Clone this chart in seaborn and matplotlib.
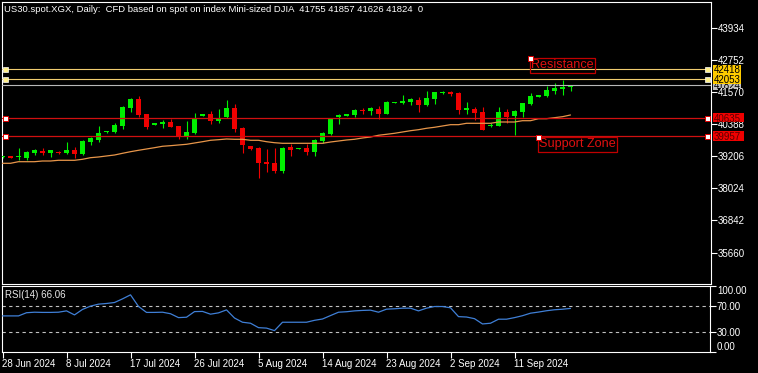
import numpy as np
import pandas as pd
import seaborn as sns
import matplotlib
matplotlib.use("Agg")
import matplotlib.pyplot as plt
import matplotlib.transforms as mtrans
from matplotlib.patches import Rectangle

# ---------------- data ----------------
title = "US30.spot.XGX, Daily:  CFD based on spot on index Mini-sized DJIA  41755 41857 41626 41824  0"

opens = [39174, 39222, 39174, 39159, 39321, 39417, 39343, 39380, 39321, 39454,
         39295, 39738, 39801, 40096, 40118, 40329, 41004, 41336, 40771, 40376,
         40402, 40487, 40340, 39960, 40059, 40709, 40771, 40524, 40672, 41004,
         40266, 39591, 39517, 39000, 38963, 38679, 39554, 39480, 39517, 39369,
         39775, 40033, 40661, 40709, 40746, 40930, 40893, 40967, 40783, 41177,
         41177, 41225, 41299, 41114, 41325, 41557, 41594, 41557, 40930, 40967,
         40856, 40340, 40340, 40856, 40709, 40856, 41140, 41410, 41436, 41631,
         41705, 41755]
highs = [39220, 39230, 39528, 39406, 39480, 39517, 39454, 39400, 39749, 39554,
         39812, 39923, 40340, 40150, 40428, 41056, 41362, 41424, 40780, 40440,
         40561, 40598, 40345, 40524, 40797, 40780, 40882, 40967, 41288, 41140,
         40303, 39600, 39554, 39480, 39517, 39554, 39664, 39525, 39664, 39849,
         40118, 40640, 40771, 40780, 40967, 41004, 41041, 41078, 41251, 41220,
         41484, 41351, 41410, 41631, 41600, 41610, 41605, 41565, 41225, 41041,
         41019, 40428, 41019, 40967, 40930, 41185, 41546, 41470, 41816, 41915,
         42026, 41857]
lows = [39160, 39150, 39074, 39063, 39260, 39260, 39196, 39310, 39306, 39159,
        39260, 39628, 39738, 40082, 40082, 40207, 40856, 40661, 40218, 40370,
        40265, 40298, 39838, 39860, 40022, 40700, 40414, 40439, 40635, 40118,
        39332, 39454, 38421, 38642, 38594, 38605, 39233, 39470, 39260, 39222,
        39701, 39996, 40402, 40700, 40672, 40783, 40746, 40598, 40771, 41170,
        41151, 41104, 40856, 41078, 41151, 41520, 41446, 40783, 40783, 40539,
        40180, 40296, 40330, 40439, 40008, 40672, 41114, 41400, 41399, 41520,
        41473, 41626]
closes = [39203, 39159, 39211, 39369, 39432, 39321, 39432, 39332, 39454, 39295,
          39775, 39897, 40071, 40144, 40366, 41030, 41336, 40735, 40303, 40428,
          40487, 40303, 39960, 40107, 40635, 40771, 40524, 40635, 40993, 40218,
          39628, 39480, 38963, 38915, 38679, 39517, 39454, 39517, 39369, 39812,
          40071, 40624, 40735, 40771, 40930, 40893, 40982, 40771, 41225, 41214,
          41262, 41314, 41114, 41373, 41594, 41594, 41520, 40930, 40982, 40819,
          40192, 40366, 40856, 40672, 40871, 41177, 41436, 41461, 41657, 41731,
          41768, 41824]
ma = [38952, 38952, 39011, 39011, 39011, 39037, 39037, 39063, 39063, 39063,
      39100, 39159, 39185, 39222, 39258, 39321, 39380, 39432, 39480, 39528,
      39580, 39602, 39628, 39653, 39701, 39749, 39801, 39823, 39849, 39838,
      39838, 39801, 39801, 39749, 39712, 39690, 39690, 39690, 39690, 39690,
      39690, 39738, 39775, 39812, 39838, 39886, 39923, 39986, 40022, 40059,
      40107, 40155, 40192, 40244, 40281, 40329, 40377, 40377, 40428, 40428,
      40428, 40428, 40476, 40476, 40476, 40524, 40524, 40598, 40598, 40635,
      40672, 40735]
rsi = [54.7, 54.7, 54.7, 59.5, 60.3, 60.0, 60.0, 60.3, 62.3, 56.2,
       64.5, 69.5, 72.5, 73.5, 75.0, 80.5, 86.6, 69.0, 60.0, 60.0,
       60.3, 58.0, 52.1, 52.7, 61.2, 61.5, 57.3, 59.3, 63.8, 51.5,
       45.1, 43.6, 36.9, 36.2, 32.4, 45.1, 45.1, 45.1, 45.1, 48.0,
       50.0, 55.2, 60.3, 61.0, 62.3, 63.0, 63.4, 60.3, 64.9, 65.5,
       66.4, 66.4, 62.3, 66.4, 68.9, 68.9, 67.0, 53.6, 53.0, 50.5,
       42.5, 43.6, 49.7, 49.7, 52.1, 55.0, 58.8, 60.5, 62.5, 64.0,
       64.8, 66.06]

price_ticks = [43934, 42752, 41570, 40388, 39206, 38024, 36842, 35660]
date_labels = ["28 Jun 2024", "8 Jul 2024", "17 Jul 2024", "26 Jul 2024", "5 Aug 2024",
               "14 Aug 2024", "23 Aug 2024", "2 Sep 2024", "11 Sep 2024"]
date_label_bars = [0, 8, 16, 24, 32, 40, 48, 56, 64]
resistance_levels = [42418, 42053]
support_levels = [40635, 39957]
bid_price = 41824
rsi_levels = [70, 30]
rsi_ticks = [100, 70, 30, 0]
rsi_tick_labels = ["100.00", "70.00", "30.00", "0.00"]
rsi_title = "RSI(14) 66.06"

# ---------------- style ----------------
sns.set_theme(style="dark")
plt.rcParams["font.family"] = ["Liberation Sans", "DejaVu Sans"]
plt.rcParams["axes.facecolor"] = "black"
plt.rcParams["figure.facecolor"] = "black"

W, H = 758, 373
fig = plt.figure(figsize=(W / 100, H / 100), dpi=100, facecolor="black")


def frac(x0, y0, x1, y1):
    return [x0 / W, 1 - y1 / H, (x1 - x0) / W, (y1 - y0) / H]


ax = fig.add_axes(frac(2, 2, 711, 284))
ax2 = fig.add_axes(frac(2, 286, 710, 352))

n = len(closes)
bars = np.arange(n)
df = pd.DataFrame({"bar": bars, "open": opens, "high": highs, "low": lows,
                   "close": closes, "ma": ma, "rsi": rsi})

YTOP, YBOT = 44904, 34498
ax.set_ylim(YBOT, YTOP)
ax.set_xlim(-0.0625, (711 - 2.5) / 8)
PX = (YTOP - YBOT) / 282.0  # price per pixel
AXW = 709.0

BULL, BEAR = "#00F000", "#F00000"
up = df["close"] >= df["open"]
colors = np.where(up, BULL, BEAR)
body_lo = np.minimum(df["open"], df["close"])
body_h = np.maximum(np.abs(df["close"] - df["open"]), PX * 0.9)

ax.vlines(df["bar"], df["low"], df["high"], colors=colors, linewidth=0.8, zorder=3)
ax.bar(df["bar"], body_h, bottom=body_lo, width=0.625, color=colors,
       linewidth=0, zorder=3.1)

# MA line
sns.lineplot(data=df, x="bar", y="ma", ax=ax, color="#E8964A", linewidth=0.9,
             zorder=4, legend=False)

# horizontal levels
bt = mtrans.blended_transform_factory(ax.transAxes, ax.transData)
LVL_Y = "#F0CC70"
LVL_R = "#D01010"
ax.axhline(bid_price, color="#B8B8B8", linewidth=0.8, zorder=4)
for lv in resistance_levels:
    ax.axhline(lv, color=LVL_Y, linewidth=0.8, zorder=4.2)
    ax.plot([(5 - 2) / AXW, (707 - 2) / AXW], [lv, lv], linestyle="none", marker="s",
            markersize=3.6, markerfacecolor="#FFF08A", markeredgecolor="#FFFFFF",
            markeredgewidth=0.5, transform=bt, zorder=6, clip_on=False)
for lv in support_levels:
    ax.axhline(lv, color=LVL_R, linewidth=0.9, zorder=4.2)
    ax.plot([(5 - 2) / AXW, (707 - 2) / AXW], [lv, lv], linestyle="none", marker="s",
            markersize=3.6, markerfacecolor="#FFFFFF", markeredgecolor="#E00000",
            markeredgewidth=0.7, transform=bt, zorder=6, clip_on=False)


def axis_tag(price, txt, fc, tc, wpx, z):
    x0 = (712.5 - 2) / AXW
    hpx = 9.6
    ax.add_patch(Rectangle((x0, price - hpx / 2 * PX), wpx / AXW, hpx * PX,
                           transform=bt, facecolor=fc, edgecolor="none",
                           clip_on=False, zorder=z))
    ax.text(x0 + 1.2 / AXW, price, txt, transform=bt, ha="left",
            va="center_baseline", color=tc, fontsize=7, clip_on=False, zorder=z + 0.1)


axis_tag(bid_price, str(bid_price), "#C0C0C0", "#000000", 28, 4)
for lv in resistance_levels:
    axis_tag(lv, str(lv), "#FFCC00", "#000000", 28, 5)
for lv in support_levels:
    axis_tag(lv, str(lv), "#F00000", "#5A0000", 31, 5)

# text objects
TXT_R = "#E01010"
res_anchor = ((530 - 2.5) / 8, YTOP - (58.3 - 2) * PX)
sup_anchor = ((538 - 2.5) / 8, YTOP - (137.3 - 2) * PX)
for label, anc in [("Resistance", res_anchor), ("Support Zone", sup_anchor)]:
    ax.annotate(label, xy=anc, xytext=(1.2, -1.2), textcoords="offset pixels",
                ha="left", va="top", color=TXT_R, fontsize=9.1, zorder=6,
                bbox=dict(boxstyle="square,pad=0.1", facecolor="none",
                          edgecolor="#C00000", linewidth=0.9),
                annotation_clip=False)
    ax.plot([anc[0]], [anc[1]], linestyle="none", marker="s", markersize=3.6,
            markerfacecolor="#FFFFFF", markeredgecolor="#E00000",
            markeredgewidth=0.7, zorder=7, clip_on=False)

# price axis
ax.yaxis.tick_right()
ax.set_yticks(price_ticks)
ax.set_yticklabels([str(t) for t in price_ticks])
ax.tick_params(axis="y", colors="white", direction="out", length=4, width=0.8,
               pad=1, labelsize=7, right=True, left=False, labelright=True,
               labelleft=False)
ax.yaxis.set_zorder(4.5)
for tk in ax.yaxis.get_major_ticks():
    tk.label2.set_bbox(dict(facecolor="black", edgecolor="none", pad=0.3))
    tk.label2.set_verticalalignment("center_baseline")
ax.set_xticks([])
ax.set_xlabel("")
ax.set_ylabel("")
for s in ax.spines.values():
    s.set_color("white")
    s.set_linewidth(0.8)
ax.grid(False)

fig.text(4 / W, 1 - 9.5 / H, title, color="white", fontsize=6.8, ha="left",
         va="center")

# ---------------- RSI pane ----------------
ax2.set_ylim(0, 100)
ax2.set_xlim(-0.0625, (710 - 2.5) / 8)
for lv in rsi_levels:
    ax2.axhline(lv, color="#C0C0C0", linewidth=0.8, linestyle=(0, (3, 3)), zorder=2)
sns.lineplot(data=df, x="bar", y="rsi", ax=ax2, color="#3F7FD6", linewidth=0.9,
             zorder=3, legend=False)
ax2.text((5.3 - 2) / 708, 1 - (295 - 286) / 66, rsi_title, transform=ax2.transAxes,
         color="#E8E8E8", fontsize=7, ha="left", va="center")

ax2.yaxis.tick_right()
ax2.set_yticks(rsi_ticks)
ax2.set_yticklabels(rsi_tick_labels)
ax2.tick_params(axis="y", colors="white", direction="out", length=4, width=0.8,
                pad=1, labelsize=7, right=True, left=False, labelright=True,
                labelleft=False)
for tk, val in zip(ax2.yaxis.get_major_ticks(), rsi_ticks):
    if val == 100:
        tk.label2.set_verticalalignment("top")
    elif val == 0:
        tk.label2.set_verticalalignment("bottom")
    else:
        tk.label2.set_verticalalignment("center_baseline")

ax2.set_xticks(date_label_bars)
ax2.set_xticklabels(date_labels)
ax2.tick_params(axis="x", colors="white", direction="out", length=4, width=0.8,
                pad=1, labelsize=7, bottom=True)
for lab in ax2.get_xticklabels():
    lab.set_horizontalalignment("left")
ax2.set_xlabel("")
ax2.set_ylabel("")
for s in ax2.spines.values():
    s.set_color("white")
    s.set_linewidth(0.8)
ax2.grid(False)

fig.savefig("out.png", dpi=100, facecolor="black")
